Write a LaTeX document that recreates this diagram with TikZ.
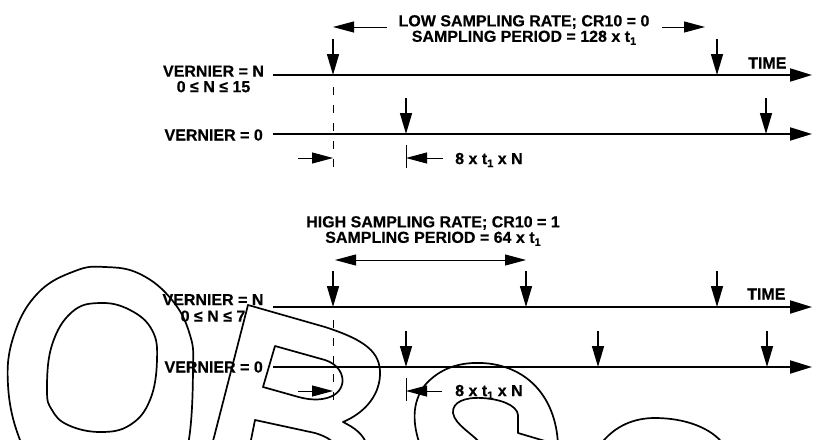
\documentclass[tikz,border=0pt]{standalone}
\usepackage{fontspec}
\setmainfont{Liberation Sans}[BoldFeatures={FakeBold=0.4}]
\usetikzlibrary{arrows.meta}
\newcommand{\tsub}{t\raisebox{-3pt}{\fontsize{11}{11}\selectfont 1}}
\begin{document}
\begin{tikzpicture}[x=1pt,y=-1pt,
  lbl/.style={font=\fontsize{16}{15.5}\selectfont\bfseries, inner sep=0pt, align=center},
  axis/.style={line width=2pt, -{Triangle[length=22pt,width=13pt]}},
  tick/.style={line width=1.5pt, -{Triangle[length=21pt,width=12pt]}},
  dim/.style={line width=1pt, -{Triangle[length=21pt,width=11pt]}},
  dimdbl/.style={line width=1pt, {Triangle[length=21pt,width=11pt]}-{Triangle[length=21pt,width=11pt]}},
  guide/.style={line width=1pt, dash pattern=on 8pt off 10pt},
  bar/.style={line width=1pt},
  wm/.style={line width=1.7pt, line join=round}]
\useasboundingbox (0,0) rectangle (813,439);
\fill[white] (0,0) rectangle (813,439);

% ---------- top section ----------
\coordinate (a1s) at (273,75);  \coordinate (a1e) at (812,75);
\coordinate (a2s) at (273,134); \coordinate (a2e) at (812,134);
\draw[axis] (a1s) -- (a1e);
\draw[axis] (a2s) -- (a2e);
\coordinate (t1a) at (333,39);  \coordinate (t1b) at (333,75);
\coordinate (t2a) at (717,39);  \coordinate (t2b) at (717,75);
\coordinate (t3a) at (406,98);  \coordinate (t3b) at (406,134);
\coordinate (t4a) at (766,98);  \coordinate (t4b) at (766,134);
\draw[tick] (t1a) -- (t1b);
\draw[tick] (t2a) -- (t2b);
\draw[tick] (t3a) -- (t3b);
\draw[tick] (t4a) -- (t4b);
\coordinate (g1a) at (333,87); \coordinate (g1b) at (333,170);
\draw[guide] (g1a) -- (g1b);
\coordinate (m1a) at (298,158); \coordinate (m1b) at (333,158);
\coordinate (m2a) at (443,158); \coordinate (m2b) at (406,158);
\draw[dim] (m1a) -- (m1b);
\draw[dim] (m2a) -- (m2b);
\coordinate (b1a) at (406,145); \coordinate (b1b) at (406,168);
\draw[bar] (b1a) -- (b1b);
\coordinate (p1a) at (387,27); \coordinate (p1b) at (333,27);
\coordinate (p2a) at (662,27); \coordinate (p2b) at (705,27);
\draw[dim] (p1a) -- (p1b);
\draw[dim] (p2a) -- (p2b);

\node[lbl] (lowt) at (524,30) {LOW SAMPLING RATE; CR10 = 0\\SAMPLING PERIOD = 128 x \tsub};
\node[lbl] (vn1) at (213.5,79) {VERNIER = N\\0 ≤ N ≤ 15};
\node[lbl, anchor=east] (v01) at (263,135) {VERNIER = 0};
\node[lbl, anchor=west] (time1) at (748,63) {TIME};
\node[lbl, anchor=west] (d1) at (455,160) {8 x \tsub{} x N};

% ---------- bottom section ----------
\coordinate (a3s) at (273,307); \coordinate (a3e) at (812,307);
\coordinate (a4s) at (273,367); \coordinate (a4e) at (812,367);
\draw[axis] (a3s) -- (a3e);
\draw[axis] (a4s) -- (a4e);
\coordinate (u1a) at (333,271); \coordinate (u1b) at (333,307);
\coordinate (u2a) at (526,271); \coordinate (u2b) at (526,307);
\coordinate (u3a) at (717,271); \coordinate (u3b) at (717,307);
\coordinate (u4a) at (406,331); \coordinate (u4b) at (406,367);
\coordinate (u5a) at (598,331); \coordinate (u5b) at (598,367);
\coordinate (u6a) at (767,331); \coordinate (u6b) at (767,367);
\foreach \n in {1,...,6} {\draw[tick] (u\n a) -- (u\n b);}
\coordinate (g2a) at (333,320); \coordinate (g2b) at (333,403);
\draw[guide] (g2a) -- (g2b);
\coordinate (n1a) at (298,391); \coordinate (n1b) at (333,391);
\coordinate (n2a) at (442,391); \coordinate (n2b) at (406,391);
\draw[dim] (n1a) -- (n1b);
\draw[dim] (n2a) -- (n2b);
\coordinate (b2a) at (406,378); \coordinate (b2b) at (406,401);
\draw[bar] (b2a) -- (b2b);
\coordinate (q1a) at (335,260); \coordinate (q1b) at (526,260);
\draw[dimdbl] (q1a) -- (q1b);

\node[lbl] (hight) at (433,231) {HIGH SAMPLING RATE; CR10 = 1\\SAMPLING PERIOD = 64 x \tsub};
\node[lbl] (vn2) at (213,308) {VERNIER = N\\[1pt]0 ≤ N ≤ 7};
\node[lbl, anchor=east] (v02) at (263,367) {VERNIER = 0};
\node[lbl, anchor=west] (time2) at (747,294) {TIME};
\node[lbl, anchor=west] (d2) at (455,392) {8 x \tsub{} x N};

% ---------- watermark outlines ----------
\begin{scope}
\clip (0,0) rectangle (813,439);
% O
\draw[wm] plot[smooth cycle, tension=0.7] coordinates {(8,385) (14,335) (38,293) (75,271) (105,267) (140,274) (172,300) (190,335) (193,370) (189,439) (176,480) (140,505) (90,505) (45,482) (20,440)};
\draw[wm] plot[smooth cycle, tension=0.7] coordinates {(47,390) (52,345) (72,312) (100,303) (130,310) (152,330) (157,360) (150,400) (130,425) (100,432) (68,425) (52,410)};
% B
\draw[wm] (212,445) -- (248,305) -- (325,327) .. controls (365,340) and (381,352) .. (380,375) .. controls (379,398) and (362,414) .. (343,422) .. controls (355,428) and (363,434) .. (367,445);
\draw[wm] (275,346) -- (325,360) .. controls (347,367) and (349,392) .. (327,398) .. controls (316,401) and (305,399) .. (295,396) -- (263,387) -- cycle;
\draw[wm] (250,445) -- (255,420) -- (315,433) .. controls (325,436) and (332,440) .. (335,445);
% S
\draw[wm] (420,445) .. controls (413,425) and (411,403) .. (425,385) .. controls (440,368) and (460,362) .. (482,363) .. controls (525,365) and (556,395) .. (558,445);
\draw[wm] (482,445) .. controls (472,433) and (455,425) .. (453,413) .. controls (452,402) and (465,397) .. (482,398) .. controls (500,399) and (517,405) .. (518,415) -- (518,433) -- (545,441);
% O
\draw[wm] (600,445) .. controls (615,425) and (635,418) .. (655,418) .. controls (685,418) and (712,428) .. (724,445);
\end{scope}
\end{tikzpicture}
\end{document}
